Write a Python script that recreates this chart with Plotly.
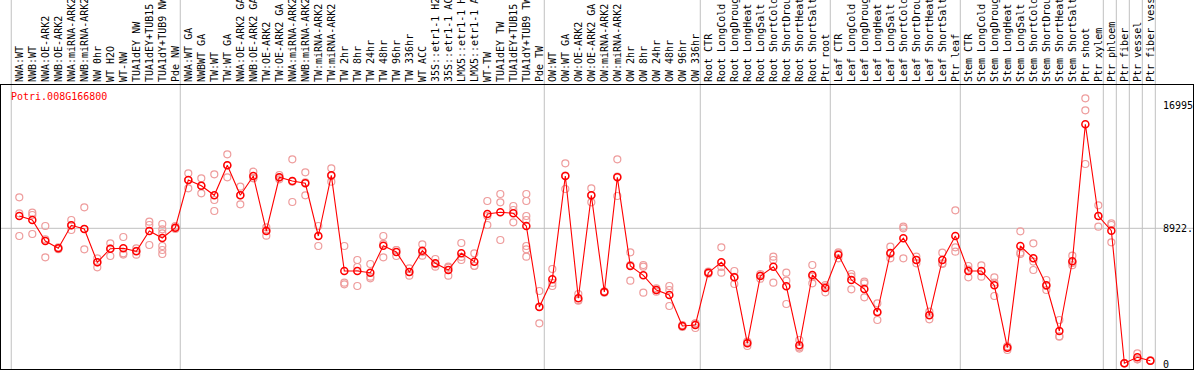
import plotly.graph_objects as go

categories = [
    "NWA:WT", "NWB:WT", "NWA:OE-ARK2", "NWB:OE-ARK2", "NWA:miRNA-ARK2", "NWB:miRNA-ARK2",
    "NW 0hr", "WT H2O", "WT-NW", "TUA1dEY NW", "TUA1dEY+TUB15 NW", "TUA1dY+TUB9 NW", "Pde NW",
    "NWA:WT GA", "NWBWT GA", "TW:WT", "TW:WT GA", "NWA:OE-ARK2 GA", "NWB:OE-ARK2 GA",
    "TW:OE-ARK2", "TW:OE-ARK2 GA", "NWA:miRNA-ARK2 GA", "NWB:miRNA-ARK2 GA", "TW:miRNA-ARK2",
    "TW:miRNA-ARK2 GA", "TW 2hr", "TW 8hr", "TW 24hr", "TW 48hr", "TW 96hr", "TW 336hr",
    "WT ACC", "35S::etr1-1 H2O", "35S::etr1-1 ACC", "LMX5::etr1-1 H2O", "LMX5::etr1-1 ACC",
    "WT-TW", "TUA1dEY TW", "TUA1dEY+TUB15 TW", "TUA1dY+TUB9 TW", "Pde TW",
    "OW:WT", "OW:WT GA", "OW:OE-ARK2", "OW:OE-ARK2 GA", "OW:miRNA-ARK2", "OW:miRNA-ARK2 GA",
    "OW 2hr", "OW 8hr", "OW 24hr", "OW 48hr", "OW 96hr", "OW 336hr",
    "Root CTR", "Root LongCold", "Root LongDrought", "Root LongHeat", "Root LongSalt",
    "Root ShortCold", "Root ShortDrought", "Root ShortHeat", "Root ShortSalt", "Ptr root",
    "Leaf CTR", "Leaf LongCold", "Leaf LongDrought", "Leaf LongHeat", "Leaf LongSalt",
    "Leaf ShortCold", "Leaf ShortDrought", "Leaf ShortHeat", "Leaf ShortSalt", "Ptr leaf",
    "Stem CTR", "Stem LongCold", "Stem LongDrought", "Stem LongHeat", "Stem LongSalt",
    "Stem ShortCold", "Stem ShortDrought", "Stem ShortHeat", "Stem ShortSalt", "Ptr shoot",
    "Ptr xylem", "Ptr phloem", "Ptr fiber", "Ptr vessel", "Ptr fiber vessel",
]

mean_values = [
    9728, 9466, 8090, 7612, 9119, 8877, 6695, 7586, 7612, 7416, 8746, 8287, 8962,
    12087, 11713, 11084, 13050, 11084, 12349, 8746, 12263, 12021, 11870, 8418, 12394,
    6125, 6125, 6014, 7783, 7370, 6060, 7455, 6630, 6191, 7285, 6734, 9859, 9971, 9905,
    9073, 3767,
    5581, 12349, 4337, 11084, 4750, 12263, 6453, 5843, 4880, 4553, 2522, 2588,
    6014, 6695, 5712, 1389, 5798, 6407, 5123, 1258, 5863, 5012,
    7193, 5536, 4946, 3439, 7304, 8267, 6846, 3223, 6846, 8418,
    6125, 6125, 5188, 1101, 7763, 6957, 5188, 2195, 6761, 15736,
    9728, 8765, 79, 472, 249,
]

replicates = [
    [10953, 9905, 8418], [9944, 9794, 8549], [9073, 8202, 7023], [7550, 7612, 7680],
    [9466, 8811, 9119], [10298, 8877, 7547], [6957, 6368, 6695], [7940, 7108, 7586],
    [8352, 7285, 7199], [7612, 7193, 7443], [9355, 9139, 7828],
    [9204, 8857, 8595, 7763, 7501, 7239], [9073, 8962, 8877],
    [12526, 11543, 12087], [12198, 11215, 11713], [12460, 10776, 10056], [13770, 12263, 13050],
    [11648, 10495, 11084], [12630, 12198, 12219], [8988, 8438, 8812], [12414, 12132, 12243],
    [13443, 10645, 11975], [12591, 11084, 11935], [9073, 7763, 8418], [12853, 11975, 12354],
    [7763, 5359, 5254], [6846, 5143, 6386], [6584, 5752, 5647], [8418, 7023, 7908],
    [7501, 7108, 7501], [6302, 5817, 6061], [7874, 7127, 7364], [6911, 6407, 6572],
    [6407, 5817, 6349], [7960, 6846, 7049], [7285, 6453, 6464], [10711, 9139, 9727],
    [11169, 10626, 8156], [10383, 10121, 9316],
    [11169, 10711, 9728, 9466, 7763, 7547, 7062], [4815, 2699, 3787],
    [6256, 5143, 5344], [13181, 11497, 12369], [4619, 4180, 4212], [11543, 10626, 11083],
    [4700, 4750, 4800], [13443, 11038, 12308], [7350, 5490, 6519], [6518, 6407, 4704],
    [4992, 4880, 4768], [5143, 4880, 3832], [2588, 2457, 2522], [2699, 2391, 2674],
    [6079, 5948, 6014], [7678, 6014, 6393], [6125, 5274, 5737], [1494, 1212, 1461],
    [5929, 5621, 5844], [7062, 6846, 5359], [6014, 5490, 3963], [1605, 1127, 1042],
    [6518, 5319, 5752], [5208, 4730, 5098],
    [7350, 6957, 7272], [5929, 4926, 5753], [5424, 5319, 4402], [4009, 2915, 3393],
    [7717, 6957, 7238], [9027, 8922, 6957], [7062, 6630, 6846], [3459, 2961, 3249],
    [7324, 6584, 6630], [10102, 7678, 7390],
    [6453, 5712, 6210], [6499, 5752, 6124], [5712, 4487, 5365], [1192, 950, 1161],
    [8726, 7239, 7324], [7940, 6191, 6740], [5536, 4880, 5148], [2915, 1821, 1849],
    [7127, 6649, 6507], [17439, 16653, 13135],
    [10429, 9027, 9728], [9250, 9139, 8005], [60, 80, 97], [734, 341, 341], [230, 249, 270],
]

gene_name = "Potri.008G166800"
axis_labels = ["16995", "8922.5", "0"]
axis_label_values = [16995, 8922.5, 0]
group_ends = [-1, 12, 40, 52, 62, 72, 83, 84, 85, 86, 87]
mid_line_value = 8922.5

FONT = "DejaVu Sans Mono"
RED = "#ff0000"
PINK = "#ee9c9c"

x_idx = list(range(len(categories)))

rep_x, rep_y = [], []
for i, reps in enumerate(replicates):
    for v in reps:
        rep_x.append(i)
        rep_y.append(v)

fig = go.Figure()
fig.add_trace(go.Scatter(
    x=rep_x, y=rep_y, mode="markers",
    marker=dict(symbol="circle-open", size=7, color=PINK, line=dict(width=1.2, color=PINK)),
    hoverinfo="skip", showlegend=False, cliponaxis=False,
))
fig.add_trace(go.Scatter(
    x=x_idx, y=mean_values, mode="lines+markers",
    line=dict(color=RED, width=1.1),
    marker=dict(symbol="circle-open", size=7, color=RED, line=dict(width=1.5, color=RED)),
    showlegend=False, cliponaxis=False,
))

shapes = []
for g in group_ends:
    shapes.append(dict(type="line", xref="x", yref="paper", x0=g + 0.38, x1=g + 0.38,
                       y0=0, y1=1.31, line=dict(color="#c0c0c0", width=1), layer="below"))
shapes.append(dict(type="line", xref="paper", yref="y", x0=0, x1=1,
                   y0=mid_line_value, y1=mid_line_value,
                   line=dict(color="#c0c0c0", width=1), layer="below"))

annotations = [dict(text=gene_name, xref="paper", yref="paper", x=0.0067, y=0.959,
                    xanchor="left", yanchor="middle", showarrow=False,
                    font=dict(family=FONT, size=10, color=RED))]
for lab, val in zip(axis_labels, axis_label_values):
    annotations.append(dict(text=lab, xref="paper", yref="y", x=0.9735, y=val,
                            xanchor="left", yanchor="middle", showarrow=False,
                            font=dict(family=FONT, size=10, color="black")))

fig.update_layout(
    template="none",
    width=1194, height=370,
    margin=dict(l=1, r=1, t=85, b=1, pad=0),
    paper_bgcolor="white", plot_bgcolor="white",
    shapes=shapes, annotations=annotations,
    xaxis=dict(
        side="top", range=[-1.408, 90.28], tickmode="array", tickvals=x_idx,
        ticktext=categories, tickangle=-90, ticks="", showgrid=False, zeroline=False,
        showline=True, mirror=True, linecolor="black", linewidth=1,
        tickfont=dict(family=FONT, size=10, color="black"), automargin=False,
    ),
    yaxis=dict(
        range=[-295, 18310], showticklabels=False, ticks="", showgrid=False, zeroline=False,
        showline=True, mirror=True, linecolor="black", linewidth=1, automargin=False,
    ),
    font=dict(family=FONT, size=10),
)

fig.write_html("out.html", include_plotlyjs=True,
               config={"displayModeBar": False},
               post_script="document.body.style.margin='0';")
